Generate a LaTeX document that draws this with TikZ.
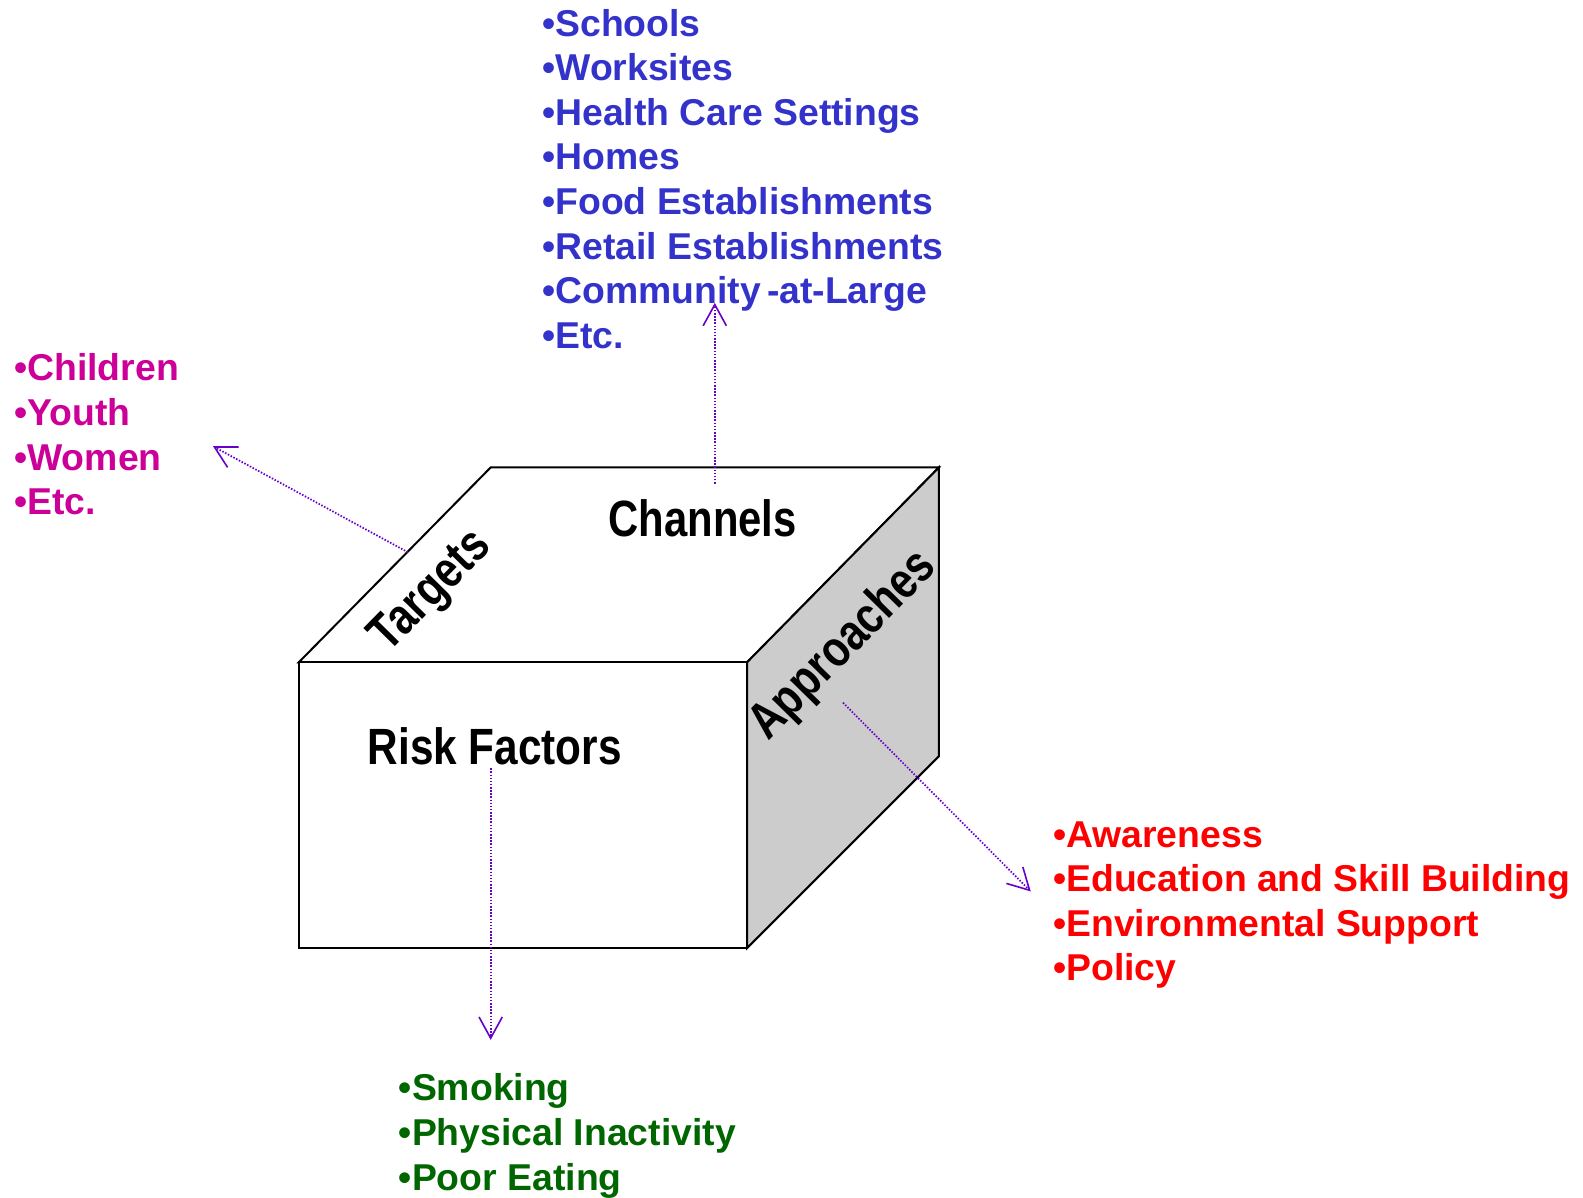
\documentclass[tikz,border=0pt]{standalone}
\usepackage{fontspec}
\setmainfont{Liberation Sans}
\usepackage{graphicx}
\usetikzlibrary{arrows.meta}
\definecolor{chblue}{HTML}{3333CC}
\definecolor{tgmag}{HTML}{CC0099}
\definecolor{apred}{HTML}{FF0000}
\definecolor{rkgreen}{HTML}{006600}
\definecolor{arrpurple}{HTML}{6600CC}
\definecolor{sidegray}{HTML}{CCCCCC}
\begin{document}
\begin{tikzpicture}[x=1pt,y=-1pt,
  listtext/.style={anchor=base west, inner sep=0pt, font=\fontsize{37}{44}\selectfont\bfseries},
  facelabel/.style={inner sep=0pt, font=\fontsize{50.5}{60}\selectfont\bfseries},
  edge/.style={draw=black, line width=2pt, line join=miter},
  pointer/.style={draw=arrpurple, line width=1.7pt, dash pattern=on 1.5pt off 1.6pt,
    -{Straight Barb[length=21pt,width=23pt,line width=1.6pt]}}
]
\useasboundingbox (0,0) rectangle (1568,1186);
% cube
\coordinate (fa) at (296,656);
\coordinate (fb) at (740,656);
\coordinate (fc) at (740,939);
\coordinate (fd) at (296,939);
\coordinate (ba) at (486,463);
\coordinate (bb) at (930,463);
\coordinate (bc) at (930,749);
\path[fill=white, edge] (fa) -- (ba) -- (bb) -- (fb) -- cycle;
\path[fill=sidegray, edge] (fb) -- (bb) -- (bc) -- (fc) -- cycle;
\path[fill=white, edge] (fa) rectangle (fc);
% face labels
\node[facelabel] (chlab) at (696,513) {\scalebox{0.82}[1]{Channels}};
\node[facelabel] (rklab) at (490,739) {\scalebox{0.83}[1]{Risk Factors}};
\node[facelabel, rotate=45.5] (tglab) at (428,587) {\scalebox{0.82}[1]{Targets}};
\node[facelabel, rotate=45.5] (aplab) at (836,640) {\scalebox{0.82}[1]{Approaches}};
% lists
\foreach \t [count=\i from 0] in {Schools,Worksites,Health Care Settings,Homes,Food Establishments,Retail Establishments,Community\,-at-Large,Etc.}
  \node[listtext, text=chblue] (ch\i) at (537,{35.7+44.2*\i}) {•\t};
\foreach \t [count=\i from 0] in {Children,Youth,Women,Etc.}
  \node[listtext, text=tgmag] (tg\i) at (14,{377+44.3*\i}) {•\t};
\foreach \t [count=\i from 0] in {Awareness,Education and Skill Building,Environmental Support,Policy}
  \node[listtext, text=apred] (ap\i) at (1043,{839+44.2*\i}) {•\t};
\foreach \t [count=\i from 0] in {Smoking,Physical Inactivity,Poor Eating}
  \node[listtext, text=rkgreen] (rk\i) at (395,{1090+44.5*\i}) {•\t};
% pointers
\coordinate (tgs) at (404,547);
\coordinate (tge) at (211,442);
\coordinate (chs) at (708,479);
\coordinate (che) at (708,300);
\coordinate (aps) at (835,696);
\coordinate (ape) at (1021,883);
\coordinate (rks) at (486,761);
\coordinate (rke) at (486,1030);
\draw[pointer] (tgs) -- (tge);
\draw[pointer] (chs) -- (che);
\draw[pointer] (aps) -- (ape);
\draw[pointer] (rks) -- (rke);
\end{tikzpicture}
\end{document}
